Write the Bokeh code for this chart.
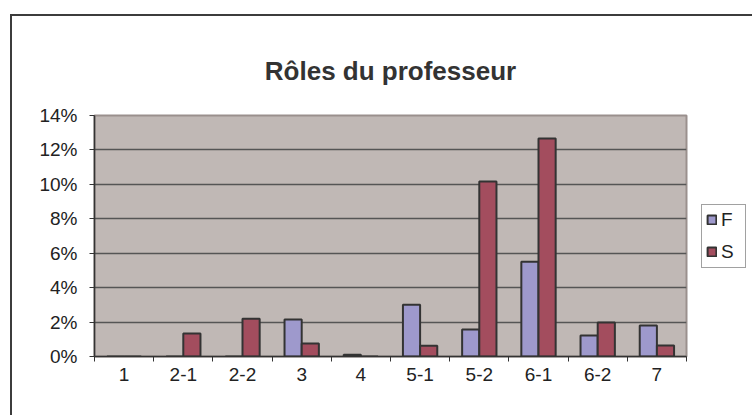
from bokeh.plotting import figure
from bokeh.models import (ColumnDataSource, Range1d, NumeralTickFormatter,
                          FixedTicker, Legend, LegendItem, LinearAxis, CustomJSTickFormatter)
from bokeh.embed import file_html
from bokeh.resources import INLINE

categories = ["1", "2-1", "2-2", "3", "4", "5-1", "5-2", "6-1", "6-2", "7"]
F_values = [0.0, 0.0, 0.0, 0.0215, 0.001, 0.030, 0.0157, 0.055, 0.0122, 0.018]
S_values = [0.0, 0.0134, 0.022, 0.0075, 0.0, 0.0063, 0.1017, 0.1267, 0.0198, 0.0064]
y_ticks = [0.0, 0.02, 0.04, 0.06, 0.08, 0.10, 0.12, 0.14]

n = len(categories)
idx = list(range(n))
BW = 0.29
src = ColumnDataSource(dict(cat=categories,
                            xf=[i + 0.5 - BW / 2 for i in idx],
                            xs=[i + 0.5 + BW / 2 for i in idx],
                            F=F_values, S=S_values))

FONT = "Liberation Sans"

p = figure(frame_width=592, frame_height=241, x_range=Range1d(0, n), y_range=Range1d(0, 0.14),
           output_backend="svg", toolbar_location=None, tools="", x_axis_location=None,
           min_border_left=82, min_border_right=0, min_border_top=99, min_border_bottom=59)
p.margin = (14, 0, 0, 10)
p.styles = {"border-left": "2px solid #3c3c3c", "border-top": "2px solid #3c3c3c",
            "border-right": "none", "border-bottom": "none"}

p.title.text = "Rôles du professeur"
p.title.text_font = FONT
p.title.text_font_size = "26px"
p.title.text_font_style = "bold"
p.title.text_color = "#333333"
p.title.align = "center"
p.title.vertical_align = "top"
p.title.standoff = 56

p.background_fill_color = "#C0B8B5"
p.border_fill_color = "white"
p.outline_line_color = "#9A908D"
p.outline_line_width = 2

fcol = "#9E99CC"
scol = "#A34D5E"
rf = p.vbar(x="xf", top="F", width=BW, source=src,
            fill_color=fcol, line_color="#333333", line_width=2)
rs = p.vbar(x="xs", top="S", width=BW, source=src,
            fill_color=scol, line_color="#333333", line_width=2)

# y axis
p.yaxis.ticker = FixedTicker(ticks=y_ticks)
p.yaxis.formatter = NumeralTickFormatter(format="0%")
yax = p.yaxis[0]
yax.axis_line_color = "#333333"
yax.axis_line_width = 1.5
yax.major_tick_line_color = "#333333"
yax.major_tick_out = 5
yax.major_tick_in = 0
yax.minor_tick_line_color = None
yax.major_label_text_font = FONT
yax.major_label_text_font_size = "19px"
yax.major_label_text_color = "#222222"
yax.major_label_standoff = 12

# x axis: tick marks at category boundaries
slot_axis = LinearAxis(ticker=FixedTicker(ticks=list(range(n + 1))),
                       formatter=CustomJSTickFormatter(code="return ''"))
slot_axis.axis_line_color = "#333333"
slot_axis.axis_line_width = 1.5
slot_axis.major_tick_line_color = "#333333"
slot_axis.major_tick_out = 5
slot_axis.major_tick_in = 0
slot_axis.minor_tick_line_color = None
slot_axis.major_label_standoff = 0
slot_axis.major_label_text_font_size = "1px"

# x axis: category labels at slot centres
cat_axis = LinearAxis(ticker=FixedTicker(ticks=[i + 0.5 for i in idx]),
                      formatter=CustomJSTickFormatter(args=dict(cats=categories),
                                                      code="return cats[Math.floor(tick)]"))
cat_axis.axis_line_color = None
cat_axis.major_tick_line_color = None
cat_axis.major_tick_out = 0
cat_axis.minor_tick_line_color = None
cat_axis.major_label_standoff = 6
cat_axis.major_label_text_font = FONT
cat_axis.major_label_text_font_size = "19px"
cat_axis.major_label_text_color = "#222222"

p.add_layout(slot_axis, "below")
p.add_layout(cat_axis, "below")

p.xgrid.grid_line_color = None
p.ygrid.grid_line_color = "#555555"
p.ygrid.grid_line_width = 1.5

legend = Legend(items=[LegendItem(label="F", renderers=[rf]), LegendItem(label="S", renderers=[rs])],
                location="left", orientation="vertical")
legend.label_text_font = FONT
legend.label_text_font_size = "19px"
legend.label_text_color = "#222222"
legend.border_line_color = "#444444"
legend.border_line_width = 1
legend.background_fill_color = "white"
legend.background_fill_alpha = 1
legend.padding = 4
legend.spacing = 10
legend.margin = 15
legend.glyph_width = 11
legend.glyph_height = 11
legend.label_height = 22
legend.label_standoff = 4
p.add_layout(legend, "right")

open("out.html", "w").write(file_html(p, INLINE))
